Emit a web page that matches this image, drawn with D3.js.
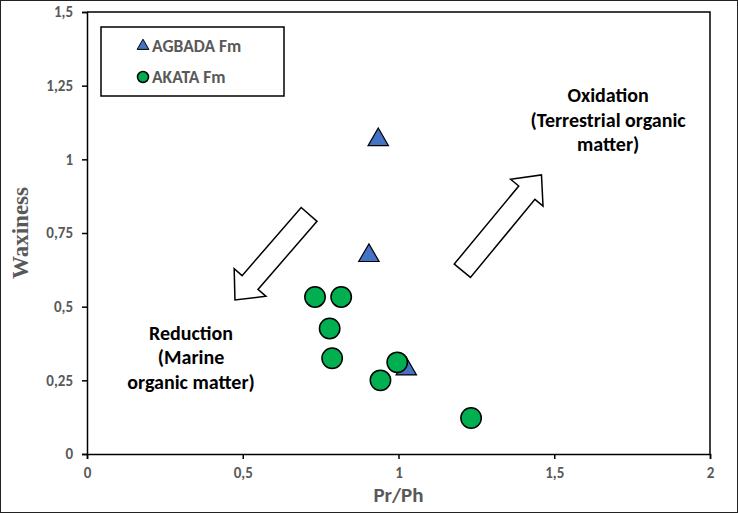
<!DOCTYPE html>
<html>
<head>
<meta charset="utf-8">
<script src="https://cdn.jsdelivr.net/npm/d3@7"></script>
<style>
  body { margin: 0; background: #fff; }
  text { font-family: Calibri, Carlito, Lato, sans-serif; }
</style>
</head>
<body>
<div id="chart"></div>
<script>
"use strict"

// data
let agbadaPrPh = [0.935, 0.905, 1.025];
let agbadaWax = [1.073, 0.68, 0.295];

let akataPrPh = [0.732, 0.816, 0.779, 0.787, 0.996, 0.942, 1.233];
let akataWax = [0.533, 0.533, 0.426, 0.325, 0.311, 0.25, 0.122];

let xTicks = [0, 0.5, 1, 1.5, 2];
let yTicks = [0, 0.25, 0.5, 0.75, 1, 1.25, 1.5];

let legendNames = ["AGBADA Fm", "AKATA Fm"];

// block arrows, tail -> tip in data units
let arrowTails = [[0.713, 0.813], [1.205, 0.622]];
let arrowTips = [[0.475, 0.523], [1.459, 0.947]];

let oxidationLines = ["Oxidation", "(Terrestrial organic", "matter)"];
let reductionLines = ["Reduction", "(Marine", "organic matter)"];

let width = 738;
let height = 513;

let comma = d => String(d).replace(".", ",");

let drawing = d3.select("#chart")
    .append("svg")
    .attr("width", width)
    .attr("height", height);

// outer frame
drawing.append("rect")
    .attr("x", 0.5)
    .attr("y", 0.5)
    .attr("width", width - 1)
    .attr("height", height - 1)
    .attr("fill", "white")
    .attr("stroke", "#222")
    .attr("stroke-width", 1);

let x = d3.scaleLinear().domain([0, 2]).range([87, 710]);
let y = d3.scaleLinear().domain([0, 1.5]).range([454, 12]);

// plot box top & right
drawing.append("path")
    .attr("d", `M${x(0)},${y(1.5)}H${x(2)}V${y(0)}`)
    .attr("fill", "none")
    .attr("stroke", "black")
    .attr("stroke-width", 1.5);

// axes
let xAxis = drawing.append("g")
    .attr("transform", `translate(0,${y(0)})`)
    .call(d3.axisBottom(x).tickValues(xTicks).tickFormat(comma).tickSize(5).tickPadding(8));

let yAxis = drawing.append("g")
    .attr("transform", `translate(${x(0)},0)`)
    .call(d3.axisLeft(y).tickValues(yTicks).tickFormat(comma).tickSize(5).tickPadding(9));

[xAxis, yAxis].forEach(a => {
    a.select(".domain").attr("stroke", "black").attr("stroke-width", 1.5);
    a.selectAll(".tick line").attr("stroke", "black").attr("stroke-width", 1.5);
    a.selectAll(".tick text")
        .attr("fill", "#595959")
        .attr("font-size", 15)
        .attr("font-weight", "bold")
        .style("font-family", "Calibri, Carlito, Lato, sans-serif");
});

// axis titles
drawing.append("text")
    .attr("x", x(1))
    .attr("y", 502)
    .attr("text-anchor", "middle")
    .attr("fill", "#595959")
    .attr("font-size", 21)
    .attr("font-weight", "bold")
    .text("Pr/Ph");

drawing.append("text")
    .attr("transform", `translate(28,${y(0.75)}) rotate(-90)`)
    .attr("text-anchor", "middle")
    .attr("fill", "#595959")
    .attr("font-size", 23)
    .attr("font-weight", "bold")
    .style("font-family", "'Liberation Serif', 'Times New Roman', serif")
    .text("Waxiness");

// block arrows
function blockArrow(tail, tip) {
    let x0 = x(tail[0]), y0 = y(tail[1]);
    let x1 = x(tip[0]), y1 = y(tip[1]);
    let len = Math.hypot(x1 - x0, y1 - y0);
    let ang = Math.atan2(y1 - y0, x1 - x0);
    let sw = 10.5, hw = 21, hl = 23;
    let pts = [[0, -sw], [len - hl, -sw], [len - hl, -hw], [len, 0],
               [len - hl, hw], [len - hl, sw], [0, sw]];
    return pts.map(p => [
        x0 + p[0] * Math.cos(ang) - p[1] * Math.sin(ang),
        y0 + p[0] * Math.sin(ang) + p[1] * Math.cos(ang)
    ]);
}

arrowTails.forEach((t, i) => {
    drawing.append("polygon")
        .attr("points", blockArrow(t, arrowTips[i]).map(p => p.join(",")).join(" "))
        .attr("fill", "white")
        .attr("stroke", "black")
        .attr("stroke-width", 1.5)
        .attr("stroke-linejoin", "miter");
});

// annotations
function noteLines(lines, cx, cy) {
    drawing.append("g").selectAll("text")
        .data(lines)
        .join("text")
        .attr("x", cx)
        .attr("y", (d, i) => cy + i * 24.5)
        .attr("text-anchor", "middle")
        .attr("font-size", 20)
        .attr("font-weight", "bold")
        .attr("fill", "black")
        .text(d => d);
}
noteLines(oxidationLines, x(1.673), y(1.194));
noteLines(reductionLines, x(0.334), y(0.387));

// triangles first (the circles sit on top of them)
let triangle = d3.symbol().type(d3.symbolTriangle).size(180);
drawing.append("g").selectAll("path")
    .data(agbadaPrPh)
    .join("path")
    .attr("transform", (d, i) => `translate(${x(d)},${y(agbadaWax[i]) + 2})`)
    .attr("d", triangle)
    .attr("fill", "#4472c4")
    .attr("stroke", "black")
    .attr("stroke-width", 1.2);

drawing.append("g").selectAll("circle")
    .data(akataPrPh)
    .join("circle")
    .attr("cx", d => x(d))
    .attr("cy", (d, i) => y(akataWax[i]))
    .attr("r", 10.2)
    .attr("fill", "#00b050")
    .attr("stroke", "black")
    .attr("stroke-width", 1.5);

// legend
drawing.append("rect")
    .attr("x", 101)
    .attr("y", 27)
    .attr("width", 183)
    .attr("height", 69)
    .attr("fill", "white")
    .attr("stroke", "black")
    .attr("stroke-width", 1.5);

drawing.append("path")
    .attr("transform", "translate(143,46)")
    .attr("d", d3.symbol().type(d3.symbolTriangle).size(60))
    .attr("fill", "#4472c4")
    .attr("stroke", "black")
    .attr("stroke-width", 1);

drawing.append("circle")
    .attr("cx", 143)
    .attr("cy", 77)
    .attr("r", 5.5)
    .attr("fill", "#00b050")
    .attr("stroke", "black")
    .attr("stroke-width", 1.5);

drawing.append("g").selectAll("text")
    .data(legendNames)
    .join("text")
    .attr("x", 152)
    .attr("y", (d, i) => 52 + i * 31)
    .attr("font-size", 17.5)
    .attr("font-weight", "bold")
    .attr("fill", "#595959")
    .text(d => d);
</script>
</body>
</html>
